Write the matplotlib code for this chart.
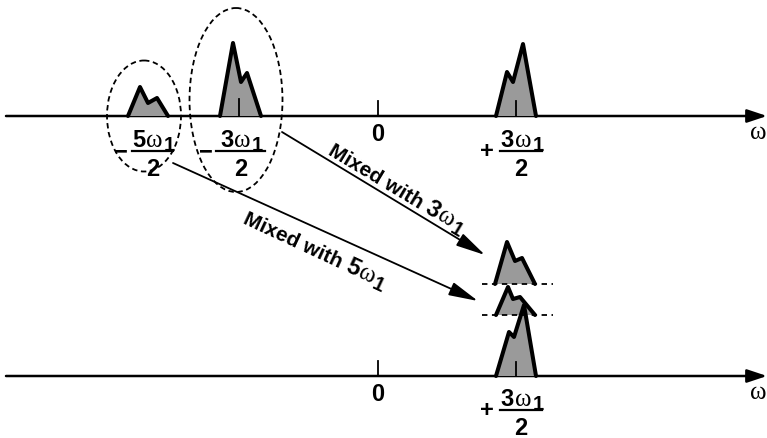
import math
import matplotlib
matplotlib.use("Agg")
import matplotlib.pyplot as plt
from matplotlib.patches import Ellipse, Polygon

SANS = 'Liberation Sans'
SERIF = 'Liberation Serif'

# ---- diagram data (pixel space, y downward) ----
axis_y = [117, 377]
axis_x0, axis_x1 = 6, 767
zero_x = 378

# peak outlines: (dx, dy) relative to (center, baseline); negative dy = upward
peak_small = [(-20, 0), (-8, -29), (0, -13), (9, -18), (20, 0)]           # -5w1/2
peak_big_left = [(-19, 0), (-6, -73), (2, -34), (8, -43), (22, 0)]         # -3w1/2
peak_big_right = [(-20, 0), (-9, -44), (-3, -34), (7, -72), (20, 0)]       # +3w1/2
peak_mix3 = [(-21, 0), (-9, -42), (-1, -23), (6, -26), (19, 0)]            # mixed with 3w1
peak_mix5 = [(-20, 0), (-8, -28), (-3, -16), (4, -18), (19, 0)]            # mixed with 5w1
peak_sum = [(-20, 0), (-7, -44), (-2, -39), (8, -71), (20, 0)]             # sum

centers_top = [148, 239, 516]
peaks_top = [peak_small, peak_big_left, peak_big_right]
tick_top = [None, 100, 102]
mix_center = 516
mix_baselines = [285, 316]
sum_baseline = 377

# fraction labels: (sign, numerator digit, bar x0, bar x1, bar y, sign x)
labels = [('−', '5', 132, 173, 152, 121),
          ('−', '3', 216, 265, 152, 206),
          ('+', '3', 500, 542, 152, 487),
          ('+', '3', 500, 542, 411, 487)]

# mixing arrows: start, end, digit, text anchor (baseline-left), angle
arrows = [((282, 133), (485, 256), '3', (327, 154), -31),
          ((173, 164), (478, 302), '5', (242, 223), -25)]

ellipses = [((144, 117), 74, 111), ((236, 101), 93, 184)]

GRAY = '#9a9a9a'

fig = plt.figure(figsize=(7.67, 4.39), dpi=100)
ax = fig.add_axes([0, 0, 1, 1])
ax.set_xlim(0, 767)
ax.set_ylim(439, 0)
ax.axis('off')
renderer = fig.canvas.get_renderer()

P_DIGIT = dict(fontsize=17, fontfamily=SANS, fontweight='bold')
P_SUB = dict(fontsize=14.5, fontfamily=SANS, fontweight='bold')
P_OMEGA = dict(fontsize=18, fontfamily=SERIF)
P_MIX = dict(fontsize=15, fontfamily=SANS, fontweight='bold')


def measure(s, props):
    t = ax.text(0, 0, s, **props)
    w = t.get_window_extent(renderer).width
    t.remove()
    return w


def seq_text(x, y, parts, angle=0.0):
    th = math.radians(angle)
    ux, uy = math.cos(th), -math.sin(th)
    nx, ny = -math.sin(th), -math.cos(th)
    pos = 0.0
    for s, props, dy, gap in parts:
        px = x + ux * pos - nx * dy
        py = y + uy * pos - ny * dy
        ax.text(px, py, s, rotation=angle, rotation_mode='anchor',
                ha='left', va='baseline', **props)
        pos += measure(s, props) + gap
    return pos


def numer_parts(d):
    return [(d, P_DIGIT, 0, 1), ('ω', P_OMEGA, 0, 1), ('1', P_SUB, 4, 0)]


def draw_peak(cx, base, shape, tick=None, z=3):
    pts = [(cx + dx, base + dy) for dx, dy in shape]
    ax.add_patch(Polygon(pts, closed=False, facecolor=GRAY, edgecolor='black',
                         lw=2.9, joinstyle='round', capstyle='round', zorder=z))
    if tick is not None:
        ax.plot([cx, cx], [base, tick], color='black', lw=1.3, zorder=z + 0.1)


def frac(sign, d, x0, x1, ybar, xs):
    ax.plot([x0, x1], [ybar, ybar], color='black', lw=1.6)
    xc = 0.5 * (x0 + x1)
    w = sum(measure(s, p) + g for s, p, _, g in numer_parts(d))
    seq_text(xc + 1 - w / 2, ybar - 5, numer_parts(d))
    ax.text(xc, ybar + 24, '2', ha='center', va='baseline', **P_DIGIT)
    ax.text(xs, ybar + 6, sign, ha='center', va='baseline', **P_DIGIT)


# frequency axes
for yb in axis_y:
    ax.annotate('', xy=(axis_x1, yb), xytext=(axis_x0, yb),
                arrowprops=dict(arrowstyle='-|>,head_length=1.2,head_width=0.4',
                                mutation_scale=10, color='black', lw=1.8,
                                shrinkA=0, shrinkB=0))
    ax.plot([zero_x, zero_x], [yb - 15, yb], color='black', lw=1.3)
    ax.text(zero_x, yb + 24, '0', ha='center', va='baseline', **P_DIGIT)
    ax.text(750, yb + 22, 'ω', ha='left', va='baseline', **P_OMEGA)

# top peaks
for cx, shp, tk in zip(centers_top, peaks_top, tick_top):
    draw_peak(cx, axis_y[0], shp, tk)

# mixed peaks
draw_peak(mix_center, mix_baselines[0], peak_mix3, z=3)
draw_peak(mix_center, mix_baselines[1], peak_mix5, z=3)
draw_peak(mix_center, sum_baseline, peak_sum, tick=363, z=4)
for yb in mix_baselines:
    ax.plot([482, 553], [yb, yb], color='black', lw=1.3, ls=(0, (3, 2.5)), zorder=5)

# labels
for lab in labels:
    frac(*lab)

# dashed ellipses
for c, w, h in ellipses:
    ax.add_patch(Ellipse(c, w, h, fill=False, edgecolor='black', lw=1.3,
                         ls=(0, (3, 2)), zorder=6))

# mixing arrows with labels
for start, end, d, tpos, ang in arrows:
    ax.annotate('', xy=end, xytext=start,
                arrowprops=dict(arrowstyle='-|>,head_length=1.8,head_width=0.42',
                                mutation_scale=10, color='black', lw=1.3,
                                shrinkA=0, shrinkB=0))
    seq_text(tpos[0], tpos[1],
             [('Mixed with ', P_MIX, 0, 0)] + numer_parts(d), angle=ang)

fig.savefig('out.png', dpi=100)
